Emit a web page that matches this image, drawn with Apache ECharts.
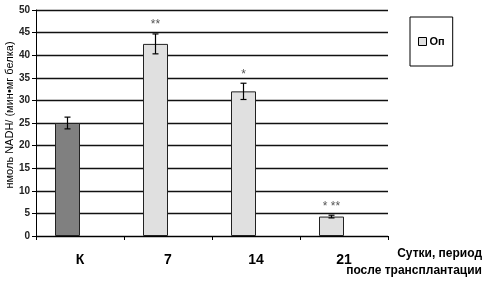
<!DOCTYPE html>
<html><head><meta charset="utf-8">
<script src="https://cdn.jsdelivr.net/npm/echarts@6/dist/echarts.min.js"></script>
<style>html,body{margin:0;padding:0;background:#fff}#c{width:487px;height:281px}</style>
</head><body><div id="c"></div>
<script>
const categories = ['К', '7', '14', '21'];
const values = [25, 42.5, 32, 4.3];
const errors = [1.3, 2.2, 1.8, 0.3];
const marks = ['', '**', '*', '* **'];
const barColors = ['#808080', '#e0e0e0', '#e0e0e0', '#e0e0e0'];
const yTicks = [0, 50, 5];

const BW = 25;
const chart = echarts.init(document.getElementById('c'), null, {renderer: 'canvas'});
chart.setOption({
  animation: false,
  backgroundColor: '#fff',
  grid: {left: 36, right: 99, top: 10, bottom: 45, containLabel: false, outerBoundsMode: 'none'},
  legend: {
    data: [{name: 'Оп', icon: 'rect'}],
    left: 410, top: 17,
    padding: [19, 8, 19, 8],
    borderColor: '#000', borderWidth: 1,
    itemWidth: 8, itemHeight: 8, itemGap: 2,
    textStyle: {fontFamily: 'Liberation Sans, Arial', fontWeight: 'bold', fontSize: 11, color: '#000', padding: [0, 0, 0, -2]},
    itemStyle: {borderColor: '#000', borderWidth: 1}
  },
  xAxis: {
    type: 'category', data: categories,
    axisLine: {lineStyle: {color: '#000', width: 1}},
    axisTick: {show: true, length: 4, lineStyle: {color: '#000'}},
    axisLabel: {fontFamily: 'Liberation Sans, Arial', fontWeight: 'bold', fontSize: 14, color: '#000', margin: 17}
  },
  yAxis: {
    type: 'value', min: yTicks[0], max: yTicks[1], interval: yTicks[2],
    axisLine: {show: true, lineStyle: {color: '#000', width: 1}},
    axisTick: {show: true, length: 4, lineStyle: {color: '#000'}},
    axisLabel: {fontFamily: 'Liberation Sans, Arial', fontWeight: 'bold', fontSize: 10, color: '#222', margin: 6},
    splitLine: {lineStyle: {color: '#111', width: 1.3}}
  },
  series: [
    {
      name: 'Оп', type: 'bar', barWidth: BW, barGap: '0%',
      itemStyle: {color: '#e0e0e0', borderColor: '#222', borderWidth: 1},
      data: values.map((v, i) => ({value: v, itemStyle: {color: barColors[i]}})),
      z: 3
    },
    {name: 'empty', type: 'bar', barWidth: BW, data: values.map(() => '-')},
    {
      type: 'custom', z: 5,
      data: values.map((v, i) => [i, v, errors[i]]),
      renderItem: function (params, api) {
        const i = api.value(0), v = api.value(1), e = api.value(2);
        const m = marks[i];
        const c = api.coord([i, v]);
        const x = c[0] - BW / 2;
        const top = api.coord([i, v + e])[1];
        const bot = api.coord([i, v - e])[1];
        const cap = 3;
        const st = {stroke: '#000', lineWidth: 1.2};
        const children = [
          {type: 'line', shape: {x1: x, y1: top, x2: x, y2: bot}, style: st},
          {type: 'line', shape: {x1: x - cap, y1: top, x2: x + cap, y2: top}, style: st},
          {type: 'line', shape: {x1: x - cap, y1: bot, x2: x + cap, y2: bot}, style: st}
        ];
        if (m) {
          children.push({type: 'text', style: {text: m, x: x, y: top - 3, align: 'center', verticalAlign: 'bottom',
            fontFamily: 'Liberation Sans, Arial', fontSize: 12, fill: '#555'}});
        }
        return {type: 'group', children: children};
      }
    }
  ],
  graphic: [
    {type: 'text', x: 4, y: 115, rotation: Math.PI / 2,
      style: {text: 'нмоль NADH/ (мин•мг белка)', align: 'center', verticalAlign: 'top', fontFamily: 'Liberation Sans, Arial', fontSize: 11, fill: '#000'}},
    {type: 'text', right: 5, top: 248, style: {text: 'Сутки, период', fontFamily: 'Liberation Sans, Arial', fontWeight: 'bold', fontSize: 12, fill: '#000'}},
    {type: 'text', right: 5, top: 265, style: {text: 'после трансплантации', fontFamily: 'Liberation Sans, Arial', fontWeight: 'bold', fontSize: 12, fill: '#000'}}
  ]
});
</script></body></html>
